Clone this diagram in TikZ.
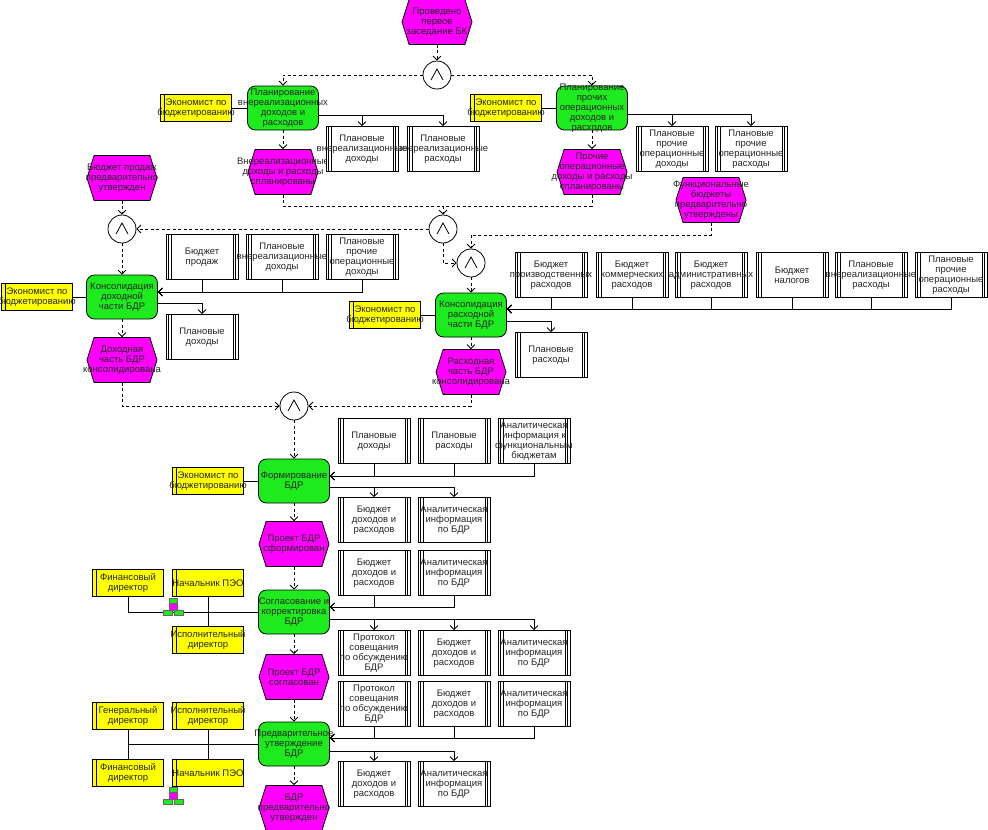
\documentclass[tikz,border=0pt]{standalone}
\usepackage{fontspec}
\setmainfont{Liberation Sans}
\usetikzlibrary{shapes.symbols,arrows.meta}

\definecolor{evmag}{RGB}{255,0,255}
\definecolor{fngreen}{RGB}{30,235,30}
\definecolor{orgyel}{RGB}{255,255,0}

\tikzset{
    lbl/.style={font=\fontsize{9.5}{10}\selectfont, align=center, inner sep=0pt, text=black!85},
    event/.style={signal, signal to=east and west, signal pointer angle=145, draw, fill=evmag,
        minimum width=70pt, minimum height=45pt, inner sep=0pt},
    func/.style={rectangle, rounded corners=8pt, draw, fill=fngreen,
        minimum width=71pt, minimum height=44pt, inner sep=0pt},
    orgunit/.style={rectangle, draw, fill=orgyel, minimum width=71pt, minimum height=27pt, inner sep=0pt,
        path picture={\draw ([xshift=4pt]path picture bounding box.north west)
            -- ([xshift=4pt]path picture bounding box.south west);}},
    infodoc/.style={rectangle, draw, fill=white, minimum width=72pt, minimum height=45pt, inner sep=0pt,
        path picture={
            \draw ([xshift=2.5pt]path picture bounding box.north west) -- ([xshift=2.5pt]path picture bounding box.south west);
            \draw ([xshift=5pt]path picture bounding box.north west) -- ([xshift=5pt]path picture bounding box.south west);
            \draw ([xshift=-2.5pt]path picture bounding box.north east) -- ([xshift=-2.5pt]path picture bounding box.south east);
            \draw ([xshift=-5pt]path picture bounding box.north east) -- ([xshift=-5pt]path picture bounding box.south east);}},
    andop/.style={circle, draw, fill=white, minimum size=28pt, inner sep=0pt,
        path picture={\draw ([shift={(-6pt,-5pt)}]path picture bounding box.center)
            -- ++(6pt,11pt) -- ++(6pt,-11pt);}},
    flowline/.style={draw, dash pattern=on 3pt off 2.5pt},
    flow/.style={flowline, -{Straight Barb[length=4pt,width=8pt]}},
    io/.style={draw, -{Straight Barb[length=4pt,width=8pt]}},
    grpicon/.pic={
        \filldraw[fill=fngreen, draw=black!60, line width=0.4pt] (6,0) rectangle (14,5);
        \filldraw[fill=evmag, draw=black!60, line width=0.4pt] (6,5) rectangle (14,12);
        \filldraw[fill=fngreen, draw=black!60, line width=0.4pt] (0,12) rectangle (9,17);
        \filldraw[fill=fngreen, draw=black!60, line width=0.4pt] (11,12) rectangle (20,17);
    }
}

\begin{document}
\begin{tikzpicture}[x=1pt, y=-1pt, line width=0.8pt]
    \useasboundingbox (0,0) rectangle (988,830);

    % events
    \node[event, label={[lbl]center:Проведено\\первое\\заседание БК}] (e0) at (437,22) {};
    \node[event, label={[lbl]center:Внереализационные\\доходы и расходы\\спланированы}] (ev1) at (283,172) {};
    \node[event, label={[lbl]center:Прочие\\операционные\\доходы и расходы\\спланированы}] (ev2) at (592,172) {};
    \node[event, label={[lbl]center:Функциональные\\бюджеты\\предварительно\\утверждены}] (ev3) at (711,200) {};
    \node[event, label={[lbl]center:Бюджет продаж\\предварительно\\утвержден}] (ev4) at (122,178) {};
    \node[event, label={[lbl]center:Доходная\\часть БДР\\консолидирована}] (ev5) at (122,360) {};
    \node[event, label={[lbl]center:Расходная\\часть БДР\\консолидирована}] (ev6) at (471,372) {};
    \node[event, label={[lbl]center:Проект БДР\\сформирован}] (ev7) at (294,544) {};
    \node[event, label={[lbl]center:Проект БДР\\согласован}] (ev8) at (294,677) {};
    \node[event, label={[lbl]center:БДР\\предварительно\\утвержден}] (ev9) at (294,808) {};

    % functions
    \node[func, label={[lbl]center:Планирование\\внереализационных\\доходов и\\расходов}] (f1) at (283,108) {};
    \node[func, label={[lbl]center:Планирование\\прочих\\операционных\\доходов и\\расходов}] (f2) at (592,108) {};
    \node[func, label={[lbl]center:Консолидация\\доходной\\части БДР}] (f3) at (122,297) {};
    \node[func, label={[lbl]center:Консолидация\\расходной\\части БДР}] (f4) at (471,315) {};
    \node[func, label={[lbl]center:Формирование\\БДР}] (f5) at (294,481) {};
    \node[func, label={[lbl]center:Согласование и\\корректировка\\БДР}] (f6) at (294,612) {};
    \node[func, label={[lbl]center:Предварительное\\утверждение\\БДР}] (f7) at (294,744) {};

    % and connectors
    \node[andop] (and1) at (437,75) {};
    \node[andop] (and2) at (122,229) {};
    \node[andop] (and3) at (443,229) {};
    \node[andop] (and4) at (471,263) {};
    \node[andop] (and5) at (294,406) {};
    \coordinate (j1) at (443,206);
    \coordinate (j2) at (471,235);

    % org units
    \node[orgunit, label={[lbl]center:Экономист по\\бюджетированию}] (o1) at (196,108) {};
    \node[orgunit, label={[lbl]center:Экономист по\\бюджетированию}] (o2) at (506,108) {};
    \node[orgunit, label={[lbl]center:Экономист по\\бюджетированию}] (o3) at (37,297) {};
    \node[orgunit, label={[lbl]center:Экономист по\\бюджетированию}] (o4) at (385,315) {};
    \node[orgunit, label={[lbl]center:Экономист по\\бюджетированию}] (o5) at (208,481) {};
    \node[orgunit, label={[lbl]center:Финансовый\\директор}] (g1) at (128,583) {};
    \node[orgunit, label={[lbl]center:Начальник ПЭО}] (g2) at (208,583) {};
    \node[orgunit, label={[lbl]center:Исполнительный\\директор}] (g3) at (208,640) {};
    \node[orgunit, label={[lbl]center:Генеральный\\директор}] (h1) at (128,716) {};
    \node[orgunit, label={[lbl]center:Исполнительный\\директор}] (h2) at (208,716) {};
    \node[orgunit, label={[lbl]center:Финансовый\\директор}] (h3) at (128,773) {};
    \node[orgunit, label={[lbl]center:Начальник ПЭО}] (h4) at (208,773) {};

    % documents
    \node[infodoc, label={[lbl]center:Плановые\\внереализационные\\доходы}] (d1) at (362,149) {};
    \node[infodoc, label={[lbl]center:Плановые\\внереализационные\\расходы}] (d2) at (443,149) {};
    \node[infodoc, label={[lbl]center:Плановые\\прочие\\операционные\\доходы}] (d3) at (672,149) {};
    \node[infodoc, label={[lbl]center:Плановые\\прочие\\операционные\\расходы}] (d4) at (751,149) {};
    \node[infodoc, label={[lbl]center:Бюджет\\продаж}] (d5) at (202,257) {};
    \node[infodoc, label={[lbl]center:Плановые\\внереализационные\\доходы}] (d6) at (282,257) {};
    \node[infodoc, label={[lbl]center:Плановые\\прочие\\операционные\\доходы}] (d7) at (362,257) {};
    \node[infodoc, label={[lbl]center:Плановые\\доходы}] (d8) at (202,337) {};
    \node[infodoc, label={[lbl]center:Бюджет\\производственных\\расходов}] (r1) at (551,275) {};
    \node[infodoc, label={[lbl]center:Бюджет\\коммерческих\\расходов}] (r2) at (632,275) {};
    \node[infodoc, label={[lbl]center:Бюджет\\административных\\расходов}] (r3) at (711,275) {};
    \node[infodoc, label={[lbl]center:Бюджет\\налогов}] (r4) at (792,275) {};
    \node[infodoc, label={[lbl]center:Плановые\\внереализационные\\расходы}] (r5) at (871,275) {};
    \node[infodoc, label={[lbl]center:Плановые\\прочие\\операционные\\расходы}] (r6) at (951,275) {};
    \node[infodoc, label={[lbl]center:Плановые\\расходы}] (r7) at (551,355) {};
    \node[infodoc, label={[lbl]center:Плановые\\доходы}] (a1) at (374,441) {};
    \node[infodoc, label={[lbl]center:Плановые\\расходы}] (a2) at (454,441) {};
    \node[infodoc, label={[lbl]center:Аналитическая\\информация к\\функциональным\\бюджетам}] (a3) at (534,441) {};
    \node[infodoc, label={[lbl]center:Бюджет\\доходов и\\расходов}] (b1) at (374,520) {};
    \node[infodoc, label={[lbl]center:Аналитическая\\информация\\по БДР}] (b2) at (454,520) {};
    \node[infodoc, label={[lbl]center:Бюджет\\доходов и\\расходов}] (c1) at (374,573) {};
    \node[infodoc, label={[lbl]center:Аналитическая\\информация\\по БДР}] (c2) at (454,573) {};
    \node[infodoc, label={[lbl]center:Протокол\\совещания\\по обсуждению\\БДР}] (p1) at (374,653) {};
    \node[infodoc, label={[lbl]center:Бюджет\\доходов и\\расходов}] (p2) at (454,653) {};
    \node[infodoc, label={[lbl]center:Аналитическая\\информация\\по БДР}] (p3) at (534,653) {};
    \node[infodoc, label={[lbl]center:Протокол\\совещания\\по обсуждению\\БДР}] (q1) at (374,704) {};
    \node[infodoc, label={[lbl]center:Бюджет\\доходов и\\расходов}] (q2) at (454,704) {};
    \node[infodoc, label={[lbl]center:Аналитическая\\информация\\по БДР}] (q3) at (534,704) {};
    \node[infodoc, label={[lbl]center:Бюджет\\доходов и\\расходов}] (s1) at (374,784) {};
    \node[infodoc, label={[lbl]center:Аналитическая\\информация\\по БДР}] (s2) at (454,784) {};

    % control flow
    \begin{scope}[every edge/.style={flow}]
        \path (e0.south) edge (and1.north);
        \path (f1.south) edge (ev1.north);
        \path (f2.south) edge (ev2.north);
        \path (j1) edge (and3.north);
        \path (j2) edge (and4.north);
        \path (and3.west) edge (and2.east);
        \path (ev4.south) edge (and2.north);
        \path (and2.south) edge (f3.north);
        \path (f3.south) edge (ev5.north);
        \path (and4.south) edge (f4.north);
        \path (f4.south) edge (ev6.north);
        \path (and5.south) edge (f5.north);
        \path (f5.south) edge (ev7.north);
        \path (ev7.south) edge (f6.north);
        \path (f6.south) edge (ev8.north);
        \path (ev8.south) edge (f7.north);
        \path (f7.south) edge (ev9.north);
    \end{scope}
    \draw[flow] (and1.west) -| (f1.north);
    \draw[flow] (and1.east) -| (f2.north);
    \draw[flowline] (ev1.south) |- (j1);
    \draw[flowline] (ev2.south) |- (j1);
    \draw[flowline] (ev3.south) |- (j2);
    \draw[flow] (and3.south) |- (and4.west);
    \draw[flow] (ev5.south) |- (and5.west);
    \draw[flow] (ev6.south) |- (and5.east);

    % org links
    \begin{scope}[every edge/.style={draw}]
        \path (o1.east) edge (f1.west);
        \path (o2.east) edge (f2.west);
        \path (o3.east) edge (f3.west);
        \path (o4.east) edge (f4.west);
        \path (o5.east) edge (f5.west);
        \path (g2.south) edge (g3.north);
        \path (h1.south) edge (h3.north);
        \path (h2.south) edge (h4.north);
    \end{scope}
    \draw (g1.south) |- (f6.west);
    \draw (h1.south |- f7.west) -- (f7.west);
    \pic at (163,598) {grpicon};
    \pic at (163,787) {grpicon};

    % information flow
    \draw[io] ([yshift=-7pt]f1.east) -| (d1.north);
    \draw[io] ([yshift=-7pt]f1.east) -| (d2.north);
    \draw[io] ([yshift=-6pt]f2.east) -| (d3.north);
    \draw[io] ([yshift=-6pt]f2.east) -| (d4.north);
    \draw[io] (d5.south) |- ([yshift=5pt]f3.east);
    \draw[io] (d6.south) |- ([yshift=5pt]f3.east);
    \draw[io] (d7.south) |- ([yshift=5pt]f3.east);
    \draw[io] ([yshift=-6pt]f3.east) -| (d8.north);
    \draw[io] (r1.south) |- ([yshift=6pt]f4.east);
    \draw[io] (r2.south) |- ([yshift=6pt]f4.east);
    \draw[io] (r3.south) |- ([yshift=6pt]f4.east);
    \draw[io] (r4.south) |- ([yshift=6pt]f4.east);
    \draw[io] (r5.south) |- ([yshift=6pt]f4.east);
    \draw[io] (r6.south) |- ([yshift=6pt]f4.east);
    \draw[io] ([yshift=-6pt]f4.east) -| (r7.north);
    \draw[io] (a1.south) |- ([yshift=5pt]f5.east);
    \draw[io] (a2.south) |- ([yshift=5pt]f5.east);
    \draw[io] (a3.south) |- ([yshift=5pt]f5.east);
    \draw[io] ([yshift=-6pt]f5.east) -| (b1.north);
    \draw[io] ([yshift=-6pt]f5.east) -| (b2.north);
    \draw[io] (c1.south) |- ([yshift=5pt]f6.east);
    \draw[io] (c2.south) |- ([yshift=5pt]f6.east);
    \draw[io] ([yshift=-7pt]f6.east) -| (p1.north);
    \draw[io] ([yshift=-7pt]f6.east) -| (p2.north);
    \draw[io] ([yshift=-7pt]f6.east) -| (p3.north);
    \draw[io] (q1.south) |- ([yshift=6pt]f7.east);
    \draw[io] (q2.south) |- ([yshift=6pt]f7.east);
    \draw[io] (q3.south) |- ([yshift=6pt]f7.east);
    \draw[io] ([yshift=-7pt]f7.east) -| (s1.north);
    \draw[io] ([yshift=-7pt]f7.east) -| (s2.north);
\end{tikzpicture}
\end{document}
